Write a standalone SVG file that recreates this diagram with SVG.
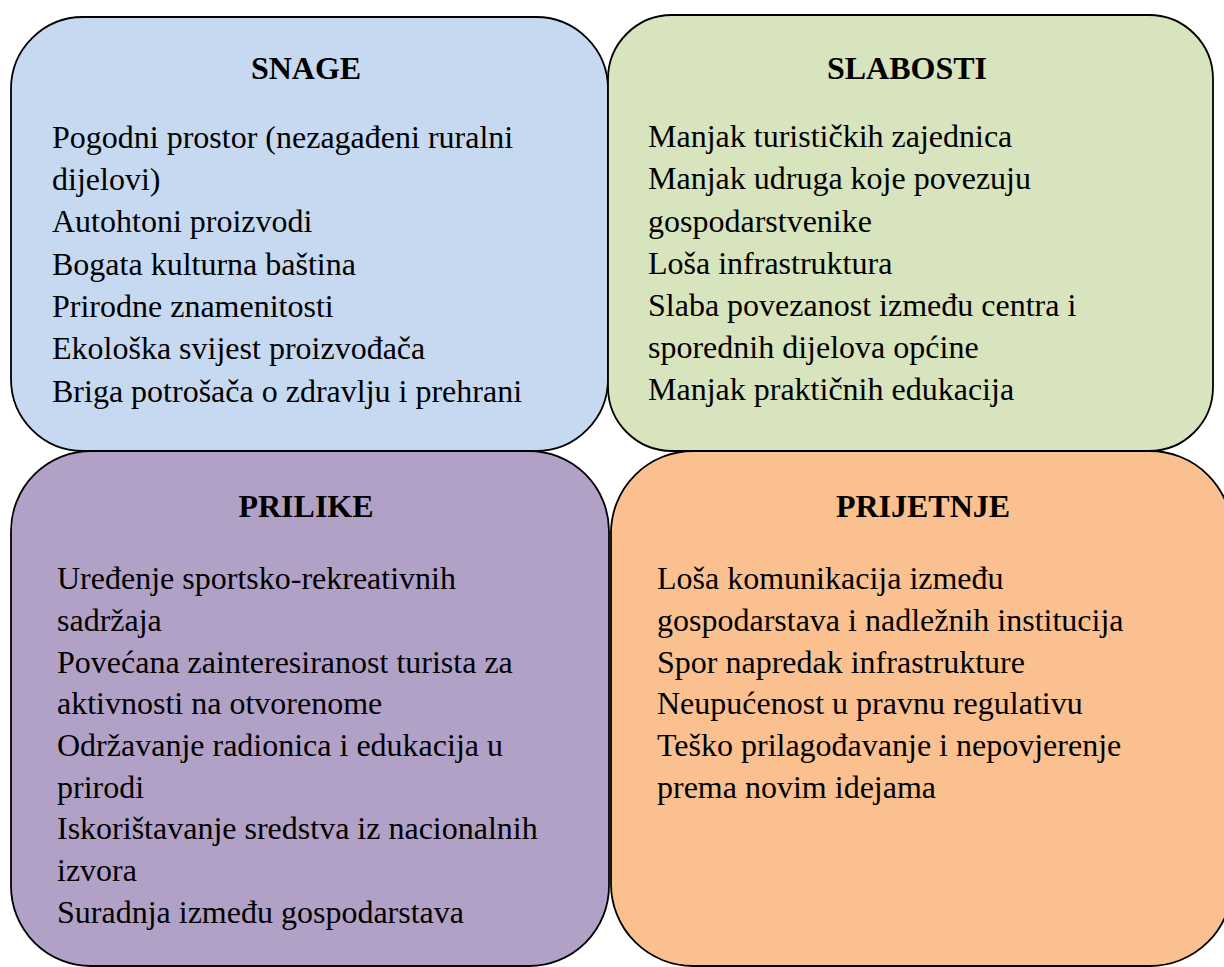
<svg xmlns="http://www.w3.org/2000/svg" width="1224" height="967" viewBox="0 0 1224 967">
<style>
.box{stroke:#000;stroke-width:1.8}
.t{font-family:"Liberation Serif","Times New Roman",serif;font-size:32px;fill:#000}
.h{font-family:"Liberation Serif","Times New Roman",serif;font-size:32px;font-weight:bold;fill:#000;text-anchor:middle}
</style>
<rect width="1224" height="967" fill="#fff"/>
<g id="snage">
<rect class="box" x="11" y="17" width="597" height="434" rx="72" ry="72" fill="#C6D9F1"/>
<text class="h" x="306" y="79">SNAGE</text>
<text class="t" x="52" y="148">Pogodni prostor (nezagađeni ruralni</text>
<text class="t" x="52" y="190">dijelovi)</text>
<text class="t" x="52" y="232">Autohtoni proizvodi</text>
<text class="t" x="52" y="275">Bogata kulturna baština</text>
<text class="t" x="52" y="317">Prirodne znamenitosti</text>
<text class="t" x="52" y="359">Ekološka svijest proizvođača</text>
<text class="t" x="52" y="402">Briga potrošača o zdravlju i prehrani</text>
</g>
<g id="slabosti">
<rect class="box" x="608" y="15" width="605" height="436" rx="64" ry="64" fill="#D7E4BD"/>
<text class="h" x="907" y="79">SLABOSTI</text>
<text class="t" x="648" y="147">Manjak turističkih zajednica</text>
<text class="t" x="648" y="189">Manjak udruga koje povezuju</text>
<text class="t" x="648" y="232">gospodarstvenike</text>
<text class="t" x="648" y="274">Loša infrastruktura</text>
<text class="t" x="648" y="316">Slaba povezanost između centra i</text>
<text class="t" x="648" y="358">sporednih dijelova općine</text>
<text class="t" x="648" y="400">Manjak praktičnih edukacija</text>
</g>
<g id="prilike">
<rect class="box" x="11" y="451" width="598" height="515" rx="80" ry="80" fill="#B2A1C7"/>
<text class="h" x="306" y="517">PRILIKE</text>
<text class="t" x="57" y="589">Uređenje sportsko-rekreativnih</text>
<text class="t" x="57" y="631">sadržaja</text>
<text class="t" x="57" y="673">Povećana zainteresiranost turista za</text>
<text class="t" x="57" y="714">aktivnosti na otvorenome</text>
<text class="t" x="57" y="756">Održavanje radionica i edukacija u</text>
<text class="t" x="57" y="798">prirodi</text>
<text class="t" x="57" y="839">Iskorištavanje sredstva iz nacionalnih</text>
<text class="t" x="57" y="881">izvora</text>
<text class="t" x="57" y="923">Suradnja između gospodarstava</text>
</g>
<g id="prijetnje">
<rect class="box" x="611" y="451" width="621" height="515" rx="82" ry="82" fill="#FAC090"/>
<text class="h" x="923" y="517">PRIJETNJE</text>
<text class="t" x="657" y="589">Loša komunikacija između</text>
<text class="t" x="657" y="631">gospodarstava i nadležnih institucija</text>
<text class="t" x="657" y="673">Spor napredak infrastrukture</text>
<text class="t" x="657" y="714">Neupućenost u pravnu regulativu</text>
<text class="t" x="657" y="756">Teško prilagođavanje i nepovjerenje</text>
<text class="t" x="657" y="798">prema novim idejama</text>
</g>
<g id="connectors"/>
</svg>
